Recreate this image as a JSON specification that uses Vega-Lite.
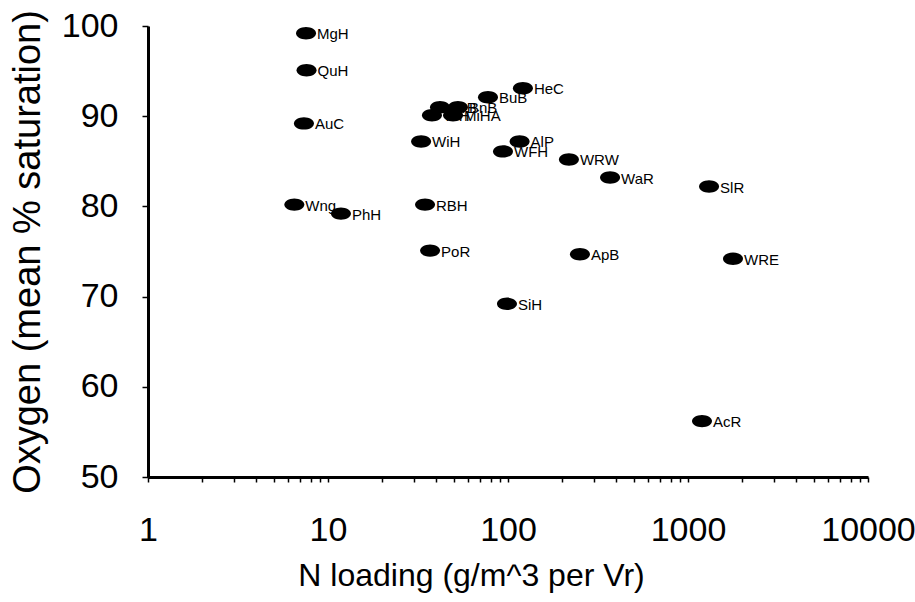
{
  "$schema": "https://vega.github.io/schema/vega-lite/v6.json",
  "width": 720,
  "height": 451,
  "autosize": {"type": "none"},
  "padding": {"left": 148, "top": 26, "right": 47, "bottom": 125},
  "background": "white",
  "config": {
    "view": {"stroke": null},
    "font": "Liberation Sans"
  },
  "data": {
    "values": [
      {"site": "MgH", "n": 7.55, "o": 99.2},
      {"site": "QuH", "n": 7.6, "o": 95.1},
      {"site": "AuC", "n": 7.35, "o": 89.2},
      {"site": "Wng", "n": 6.5, "o": 80.2},
      {"site": "PhH", "n": 11.8, "o": 79.2},
      {"site": "WiH", "n": 32.9, "o": 87.2},
      {"site": "RBH", "n": 34.6, "o": 80.2},
      {"site": "PoR", "n": 36.9, "o": 75.1},
      {"site": "CrB", "n": 41.9, "o": 91.0},
      {"site": "BnB", "n": 52.7, "o": 91.0},
      {"site": "TeH", "n": 37.8, "o": 90.1},
      {"site": "MiHA", "n": 49.5, "o": 90.1},
      {"site": "BuB", "n": 77.4, "o": 92.1},
      {"site": "HeC", "n": 121, "o": 93.1},
      {"site": "AlP", "n": 116, "o": 87.2},
      {"site": "WFH", "n": 93.8, "o": 86.1},
      {"site": "WRW", "n": 218, "o": 85.2},
      {"site": "WaR", "n": 369, "o": 83.2},
      {"site": "SlR", "n": 1309, "o": 82.2},
      {"site": "ApB", "n": 251, "o": 74.7},
      {"site": "WRE", "n": 1778, "o": 74.2},
      {"site": "SiH", "n": 98.7, "o": 69.2},
      {"site": "AcR", "n": 1196, "o": 56.2}
    ]
  },
  "encoding": {
    "x": {
      "field": "n",
      "type": "quantitative",
      "scale": {"type": "log", "domain": [1, 10000], "nice": false},
      "axis": {
        "title": "N loading (g/m^3 per Vr)",
        "values": [1,2,3,4,5,6,7,8,9,10,20,30,40,50,60,70,80,90,100,200,300,400,500,600,700,800,900,1000,2000,3000,4000,5000,6000,7000,8000,9000,10000],
        "labelExpr": "indexof(['1','10','100','1000','10000'], datum.label) >= 0 ? datum.label : ''",
        "format": "d",
        "grid": false,
        "domainColor": "black",
        "domainWidth": 3,
        "tickColor": "black",
        "tickWidth": 1.5,
        "tickSize": 5,
        "labelFontSize": 34,
        "labelColor": "black",
        "labelPadding": 31,
        "labelDx": -4,
        "labelFlush": false,
        "labelOverlap": false,
        "titleFontSize": 32,
        "titleFontWeight": "normal",
        "titleColor": "black",
        "titlePadding": 13,
        "titleX": 323
      }
    },
    "y": {
      "field": "o",
      "type": "quantitative",
      "scale": {"domain": [50, 100], "nice": false, "zero": false},
      "axis": {
        "title": "Oxygen (mean % saturation)",
        "values": [50, 60, 70, 80, 90, 100],
        "grid": false,
        "domainColor": "black",
        "domainWidth": 3,
        "tickColor": "black",
        "tickWidth": 1.5,
        "tickSize": 6,
        "labelFontSize": 34,
        "labelColor": "black",
        "labelPadding": 24,
        "labelDy": 3,
        "labelFlush": false,
        "titleFontSize": 38,
        "titleFontWeight": "normal",
        "titleColor": "black",
        "titlePadding": 14
      }
    }
  },
  "layer": [
    {
      "mark": {
        "type": "point",
        "shape": "M -1 0 A 1 0.62 0 1 1 1 0 A 1 0.62 0 1 1 -1 0 Z",
        "filled": true,
        "color": "black",
        "opacity": 1,
        "size": 400
      }
    },
    {
      "mark": {
        "type": "text",
        "align": "left",
        "baseline": "middle",
        "dx": 11,
        "dy": 1,
        "fontSize": 15,
        "color": "black"
      },
      "encoding": {"text": {"field": "site"}}
    }
  ]
}
